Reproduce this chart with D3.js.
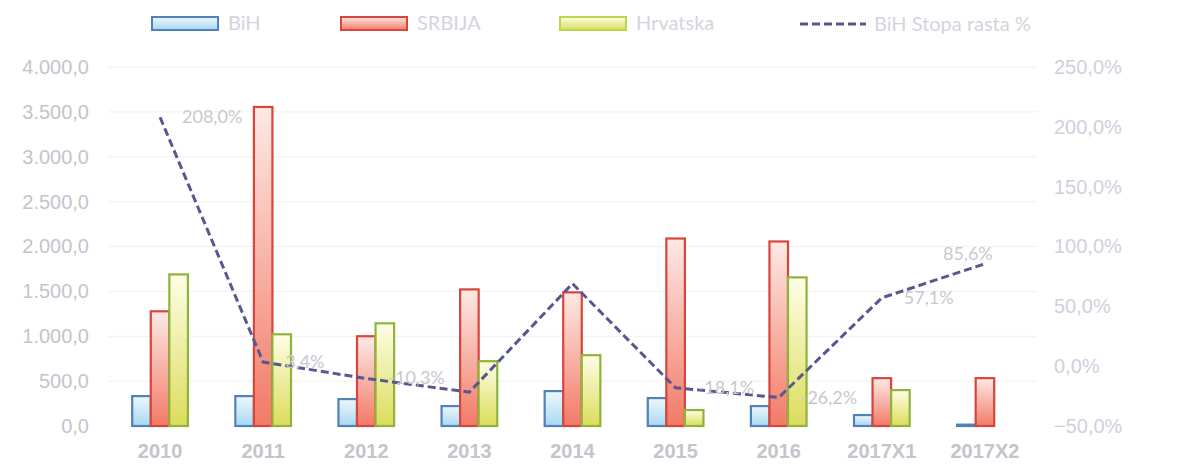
<!DOCTYPE html>
<html><head><meta charset="utf-8">
<script src="https://cdn.jsdelivr.net/npm/d3@7"></script>
<style>
body{margin:0;background:#fff;}
svg{display:block;font-family:Lato, "Open Sans", sans-serif;}
</style></head>
<body><svg id="c" width="1188" height="470"></svg>
<script>
const categories = ["2010","2011","2012","2013","2014","2015","2016","2017X1","2017X2"];
const bih = [333, 333, 300, 222, 389, 311, 222, 122, 15];
const srbija = [1278, 3555, 1000, 1522, 1489, 2089, 2056, 533, 533];
const hrvatska = [1689, 1022, 1144, 722, 789, 178, 1656, 400, 0];
const bihRast = [208.0, 3.4, -10.3, -21.7, 69.0, -18.1, -26.2, 57.1, 85.6];
const rastLabels = ["208,0%","3,4%","-10,3%","","","-18,1%","-26,2%","57,1%","85,6%"];
const leftTicks = [0,500,1000,1500,2000,2500,3000,3500,4000];
const rightTicks = [-50,0,50,100,150,200,250];
const seriesNames = ["BiH","SRBIJA","Hrvatska","BiH Stopa rasta %"];

const svg = d3.select("#c");
const defs = svg.append("defs");
function grad(id, top, bottom){
  const g = defs.append("linearGradient").attr("id",id).attr("x1",0).attr("y1",0).attr("x2",0).attr("y2",1);
  g.append("stop").attr("offset","0%").attr("stop-color",top);
  g.append("stop").attr("offset","100%").attr("stop-color",bottom);
}
grad("gB","#eef8fd","#a8d8f0");
grad("gR","#fde9e6","#f27a66");
grad("gG","#fefee6","#dcdc5c");

const x = d3.scaleBand().domain(categories).range([108.5,1036.5]).paddingInner(0.46).paddingOuter(0.23);
const x0 = d3.scaleBand().domain(categories).range([108.5,1036.5]);
const xs = d3.scaleBand().domain([0,1,2]).range([0,x.bandwidth()]);
const yL = d3.scaleLinear().domain([0,4000]).range([426,67]);
const yR = d3.scaleLinear().domain([-50,250]).range([426,67]);

const txt = "#c4c4cc";
// gridlines
svg.append("g").selectAll("line").data(leftTicks.slice(1)).join("line")
  .attr("x1",108).attr("x2",1037).attr("y1",d=>yL(d)).attr("y2",d=>yL(d))
  .attr("stroke","#f0f0f0").attr("stroke-width",1);

// axes
const gl = svg.append("g").attr("transform","translate(89,0)")
  .call(d3.axisLeft(yL).tickValues(leftTicks).tickSize(0).tickPadding(0)
    .tickFormat(d=>d3.format(",.1f")(d).replace(/,/g,"X").replace(/\./g,",").replace(/X/g,".")));
gl.select(".domain").remove();
gl.selectAll("text").attr("fill",txt).attr("font-size",20);

const gr = svg.append("g").attr("transform","translate(1054,0)")
  .call(d3.axisRight(yR).tickValues(rightTicks).tickSize(0).tickPadding(0)
    .tickFormat(d=>d3.format(".1f")(d).replace(".",",")+"%"));
gr.select(".domain").remove();
gr.selectAll("text").attr("fill","#d0d0dc").attr("font-size",20);

const gx = svg.append("g").attr("transform","translate(0,436)")
  .call(d3.axisBottom(x0).tickSize(0).tickPadding(8));
gx.select(".domain").remove();
gx.selectAll("text").attr("fill",txt).attr("font-size",20).attr("font-weight","bold");

// bars
const series = [
  {vals:bih, fill:"url(#gB)", stroke:"#4f81bd"},
  {vals:srbija, fill:"url(#gR)", stroke:"#d8453a"},
  {vals:hrvatska, fill:"url(#gG)", stroke:"#8fb43c"}
];
series.forEach((s,si)=>{
  svg.append("g").selectAll("rect").data(categories.map((c,i)=>({c,v:s.vals[i]})).filter(d=>d.v>0)).join("rect")
    .attr("x",d=>x(d.c)+xs(si)).attr("width",xs.bandwidth())
    .attr("y",d=>yL(d.v)).attr("height",d=>yL(0)-yL(d.v))
    .attr("fill",s.fill).attr("stroke",s.stroke).attr("stroke-width",2.2);
});

// line
const pts = categories.map((c,i)=>[x0(c)+x0.bandwidth()/2, yR(bihRast[i])]);
svg.append("path").attr("d",d3.line()(pts)).attr("fill","none")
  .attr("stroke","#585890").attr("stroke-width",3).attr("stroke-dasharray","8,4");
svg.append("g").selectAll("text").data(categories.map((c,i)=>({c,i}))).join("text")
  .attr("x",d=>pts[d.i][0]+ (d.i===8? -42 : 22)).attr("y",d=>pts[d.i][1]+ (d.i===8? -4 : 6))
  .attr("fill","#c8c8d0").attr("font-size",18)
  .text(d=>rastLabels[d.i]);

// legend
const leg = [
  {x:152, fill:"url(#gB)", stroke:"#4f81bd"},
  {x:341, fill:"url(#gR)", stroke:"#d8453a"},
  {x:560, fill:"url(#gG)", stroke:"#b8d84c"}
];
leg.forEach((l,i)=>{
  svg.append("rect").attr("x",l.x).attr("y",17).attr("width",66).attr("height",13)
    .attr("fill",l.fill).attr("stroke",l.stroke).attr("stroke-width",2);
  svg.append("text").attr("x",l.x+76).attr("y",30).attr("fill","#d4d4dc").attr("font-size",20).text(seriesNames[i]);
});
svg.append("line").attr("x1",800).attr("x2",866).attr("y1",24).attr("y2",24)
  .attr("stroke","#585890").attr("stroke-width",3).attr("stroke-dasharray","8,4");
svg.append("text").attr("x",874).attr("y",31).attr("fill","#d4d4dc").attr("font-size",20).text(seriesNames[3]);
</script></body></html>
